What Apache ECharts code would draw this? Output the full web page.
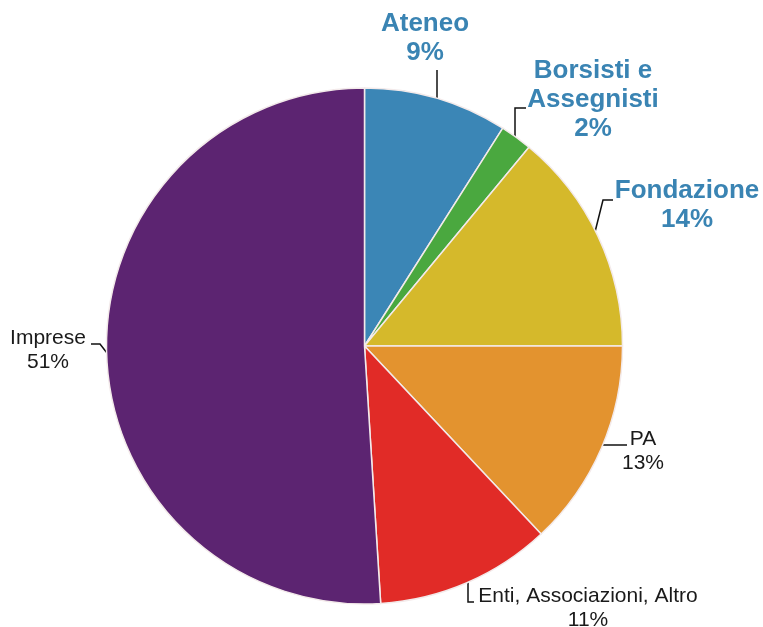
<!DOCTYPE html>
<html>
<head>
<meta charset="utf-8">
<script src="https://cdn.jsdelivr.net/npm/echarts@6/dist/echarts.min.js"></script>
<style>html,body{margin:0;padding:0;background:#fff;}#c{width:763px;height:627px;}</style>
</head>
<body>
<div id="c"></div>
<script>
const categories = ['Ateneo', 'Borsisti e Assegnisti', 'Fondazione', 'PA', 'Enti, Associazioni, Altro', 'Imprese'];
const values = [9, 2, 14, 13, 11, 51];
const colors = ['#3b86b6', '#4aa83f', '#d5b92b', '#e3932f', '#e12b27', '#5c2471'];
const highlighted = [true, true, true, false, false, false];

// label anchor (centre of text block) and leader lines, in pixels
const labelPlaces = [
  {x: 425, y: 38, line: [[437, 98], [437, 84], [437, 70]]},
  {x: 593, y: 100, line: [[515, 137], [515, 108], [526, 108]]},
  {x: 687, y: 205, line: [[595, 232], [603, 200], [613, 200]]},
  {x: 643, y: 451, line: [[603, 445], [615, 445], [627, 445]]},
  {x: 588, y: 608, line: [[468, 580], [468, 602], [474, 602]]},
  {x: 48, y: 350, line: [[107, 353], [100, 344], [91, 344]]}
];

const data = categories.map((name, i) => ({
  name: name,
  value: values[i],
  itemStyle: {color: colors[i]},
  label: highlighted[i]
    ? {fontSize: 26, fontWeight: 'bold', color: '#3a84b3', lineHeight: 29}
    : {fontSize: 21, fontWeight: 'normal', color: '#1a1a1a', lineHeight: 24}
}));

const chart = echarts.init(document.getElementById('c'));
chart.setOption({
  animation: false,
  backgroundColor: '#fff',
  series: [{
    type: 'pie',
    center: [364.5, 346],
    radius: 258,
    startAngle: 90,
    clockwise: true,
    avoidLabelOverlap: false,
    data: data,
    itemStyle: {borderColor: '#f3eaea', borderWidth: 1.5},
    label: {
      show: true,
      position: 'outside',
      fontFamily: 'Liberation Sans, Arial, sans-serif',
      align: 'center',
      formatter: p => p.name.replace(' e ', ' e\n') + '\n' + p.value + '%'
    },
    labelLine: {show: true, lineStyle: {color: '#111', width: 1.5}},
    labelLayout: function (params) {
      const pl = labelPlaces[params.dataIndex];
      return {
        x: pl.x,
        y: pl.y,
        align: 'center',
        verticalAlign: 'middle',
        labelLinePoints: pl.line
      };
    }
  }]
});
</script>
</body>
</html>
